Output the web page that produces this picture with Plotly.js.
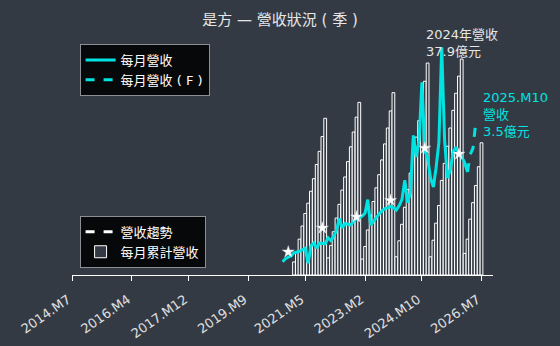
<!DOCTYPE html>
<html>
<head>
<meta charset="utf-8">
<script src="https://cdn.plot.ly/plotly-3.0.1.min.js"></script>
<style>
html,body{margin:0;padding:0;background:#333a44;}
#chart{width:560px;height:346px;}
</style>
</head>
<body>
<div id="chart"></div>
<script>
// ---- data (億元) ----
const tickDates = ['2014-07-01','2016-04-01','2017-12-01','2019-09-01','2021-05-01','2023-02-01','2024-10-01','2026-07-01'];
const tickLabels = ['2014.M7','2016.M4','2017.M12','2019.M9','2021.M5','2023.M2','2024.M10','2026.M7'];

// monthly revenue (solid line), first month as drawn on the axis
const revenueStart = '2020-09';
const monthlyRevenue = [
  2.30, 2.34, 2.36, 2.38, 2.42, 2.43, 2.44, 2.46, 2.48, 2.28,
  2.51, 2.55, 2.48, 2.55, 2.54, 2.54, 2.62, 2.58, 2.64, 2.72,
  2.88, 2.75, 2.81, 2.80, 2.79, 2.84, 2.88, 2.89, 2.91, 2.95,
  3.13, 2.79, 2.84, 2.90, 2.94, 2.98, 3.01, 3.02, 3.04, 3.02,
  2.99, 3.05, 3.13, 3.39, 3.09, 3.23, 3.99, 3.70, 3.93, 4.70,
  3.79, 3.69, 3.42, 3.30, 3.55, 3.90, 5.17, 3.93, 3.42, 3.53,
  3.77, 3.83, 3.75, 3.70, 3.63, 3.50
];

// forecast (dashed line), starts at last actual month
const forecastStart = '2026-02';
const forecastRevenue = [3.50, 3.73, 3.82, 4.17];

// revenue trend (stars)
const trendMonths = ['2020-11','2021-11','2022-11','2023-11','2024-11','2025-11'];
const trendValues = [2.43, 2.75, 2.90, 3.12, 3.82, 3.74];

// cumulative monthly revenue (bars)
const cumulativeStart = '2021-01';
const cumulativeRevenue = [
  2.3, 4.1, 6.3, 8.6, 10.8, 12.6, 14.7, 16.9, 19.4, 21.7, 24.3, 27.5,
  3.0, 5.2, 7.6, 10.0, 12.4, 14.9, 17.2, 19.9, 22.5, 25.1, 27.7, 30.3,
  2.8, 5.0, 7.9, 10.5, 12.9, 15.3, 17.6, 20.2, 23.0, 25.8, 28.8, 32.0,
  3.2, 6.0, 8.9, 11.9, 15.0, 17.9, 21.3, 24.2, 27.1, 31.0, 34.0, 37.2,
  3.2, 6.1, 9.1, 12.2, 16.6, 19.6, 22.6, 25.8, 28.9, 31.9, 34.9, 37.9,
  3.8, 6.3, 9.8, 12.7, 15.7, 19.0, 23.2
];

const yearNote = {month: '2025-12-01', value: 37.9, text: '2024年營收<br>37.9億元'};
const lastNote = '2025.M10<br>營收<br>3.5億元';

// ---- helpers ----
function months(start, n) {
  let [y, m] = start.split('-').map(Number);
  const out = [];
  for (let i = 0; i < n; i++) {
    out.push(y + '-' + String(m).padStart(2, '0') + '-01');
    m++; if (m > 12) { m = 1; y++; }
  }
  return out;
}

const BG = '#333a44';
const CYAN = '#00e3e3';
const FONT = 'DejaVu Sans, Noto Sans CJK TC, sans-serif';
const MONTH_MS = 30.44 * 86400000;

const traces = [
  {
    type: 'scatter', mode: 'lines', name: '營收趨勢', legend: 'legend2',
    x: [null], y: [null],
    line: {color: '#ffffff', width: 3, dash: 'dash'}, yaxis: 'y2'
  },
  {
    type: 'bar', name: '每月累計營收', legend: 'legend2',
    x: months(cumulativeStart, cumulativeRevenue.length), y: cumulativeRevenue,
    width: 0.97 * MONTH_MS,
    marker: {color: BG, line: {color: '#ffffff', width: 1}},
    yaxis: 'y', hoverinfo: 'skip'
  },
  {
    type: 'scatter', mode: 'lines', name: '每月營收', legend: 'legend',
    x: months(revenueStart, monthlyRevenue.length), y: monthlyRevenue,
    line: {color: CYAN, width: 3}, yaxis: 'y2'
  },
  {
    type: 'scatter', mode: 'lines', name: '每月營收 ( F )', legend: 'legend',
    x: months(forecastStart, forecastRevenue.length), y: forecastRevenue,
    line: {color: CYAN, width: 3, dash: 'dash'}, yaxis: 'y2'
  },
  {
    type: 'scatter', mode: 'markers', name: '營收趨勢', showlegend: false,
    x: trendMonths.map(m => m + '-01'), y: trendValues,
    marker: {symbol: 'star', size: 9, color: '#ffffff', line: {color: '#cfd3d8', width: 0.5}}, yaxis: 'y2'
  }
];

const legendCommon = {
  bgcolor: '#07080a', bordercolor: '#8c9096', borderwidth: 1,
  font: {family: FONT, size: 13, color: '#ffffff'},
  xanchor: 'left', traceorder: 'normal'
};

const layout = {
  width: 560, height: 346,
  paper_bgcolor: BG, plot_bgcolor: BG,
  margin: {l: 72, r: 67, t: 30, b: 71},
  font: {family: FONT, color: '#e6e6e6'},
  title: {
    text: '是方 — 營收狀況 ( 季 )',
    font: {family: FONT, size: 15, color: '#e6e6e6'},
    x: 0.5, xref: 'container', y: 0.942, yref: 'container', yanchor: 'middle'
  },
  xaxis: {
    type: 'date', range: ['2014-07-01', '2026-11-01'],
    tickmode: 'array', tickvals: tickDates, ticktext: tickLabels,
    tickangle: -35, ticks: 'outside', ticklen: 5, tickcolor: '#ffffff', tickwidth: 1,
    ticklabelstandoff: 6, ticklabelshift: -4,
    showline: true, linecolor: '#ffffff', linewidth: 1,
    showgrid: false, zeroline: false,
    tickfont: {family: FONT, size: 13, color: '#e0e0e0'}
  },
  yaxis: {range: [0, 43], visible: false, showgrid: false, zeroline: false},
  yaxis2: {range: [2.122, 5.4], overlaying: 'y', visible: false, showgrid: false, zeroline: false},
  legend: Object.assign({}, legendCommon, {x: 0.018, y: 0.943, yanchor: 'top'}),
  legend2: Object.assign({}, legendCommon, {x: 0.018, y: 0.029, yanchor: 'bottom'}),
  showlegend: true,
  bargap: 0,
  annotations: [
    {
      x: yearNote.month, y: yearNote.value, xref: 'x', yref: 'y',
      text: yearNote.text, showarrow: false, align: 'left',
      xanchor: 'center', yanchor: 'bottom', yshift: -2,
      font: {family: FONT, size: 13, color: '#e6e6e6'}
    },
    {
      x: 0.972, y: 0.657, xref: 'paper', yref: 'paper',
      text: lastNote, showarrow: false, align: 'left',
      xanchor: 'left', yanchor: 'middle',
      font: {family: FONT, size: 13, color: CYAN}
    }
  ]
};

Plotly.newPlot('chart', traces, layout, {displayModeBar: false, staticPlot: true});
</script>
</body>
</html>
